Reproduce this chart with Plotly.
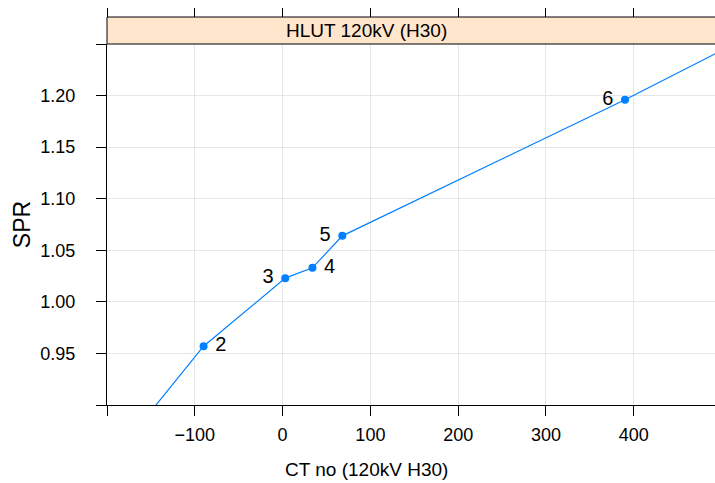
import plotly.graph_objects as go

# data
ct_values = [-1000, -90, 3, 34, 68, 390, 1000]
spr_values = [0.0, 0.957, 1.023, 1.033, 1.064, 1.196, 1.46]
point_labels = ["", "2", "3", "4", "5", "6", ""]  # points 1 and 7 lie outside the panel
label_side = ["middle right", "middle right", "middle left", "middle right",
              "middle left", "middle left", "middle right"]

x_tickvals = [-200, -100, 0, 100, 200, 300, 400]
x_ticktext = ["", "\u2212100", "0", "100", "200", "300", "400"]
y_tickvals = [0.90, 0.95, 1.00, 1.05, 1.10, 1.15, 1.20, 1.25]
y_ticktext = ["", "0.95", "1.00", "1.05", "1.10", "1.15", "1.20", ""]

strip_title = "HLUT 120kV (H30)"
x_title = "CT no (120kV H30)"
y_title = "SPR"

FONT = "Liberation Sans, Arial, Helvetica, sans-serif"
BLUE = "#0080ff"

# pad labels away from the markers
padded = [("\u00a0" + t) if "right" in s else (t + "\u00a0")
          for t, s in zip(point_labels, label_side)]

fig = go.Figure()
fig.add_trace(go.Scatter(
    x=ct_values, y=spr_values, mode="lines+markers+text",
    text=padded, textposition=label_side,
    textfont=dict(family=FONT, size=20, color="black"),
    line=dict(color=BLUE, width=1.2),
    marker=dict(color=BLUE, size=8),
    cliponaxis=True, showlegend=False, hoverinfo="x+y",
))
# invisible trace to host the top tick axis
fig.add_trace(go.Scatter(x=ct_values, y=spr_values, xaxis="x2", yaxis="y",
                         mode="markers", marker=dict(opacity=0),
                         showlegend=False, hoverinfo="skip"))

ydom_top = (405 - 44) / (405 - 17)

fig.update_layout(
    width=715, height=483,
    margin=dict(l=107, r=0, t=17, b=78),
    paper_bgcolor="white", plot_bgcolor="white",
    font=dict(family=FONT, color="black"),
    xaxis=dict(
        range=[-200, 492.5], tickvals=x_tickvals, ticktext=x_ticktext,
        ticks="outside", ticklen=10, tickcolor="black", tickwidth=1,
        showline=True, linecolor="black", linewidth=1, mirror=False,
        showgrid=True, gridcolor="#e6e6e6", gridwidth=1, zeroline=False,
        tickfont=dict(size=18, family=FONT), ticklabelstandoff=3,
    ),
    xaxis2=dict(
        overlaying="x", matches="x", side="top", anchor="free", position=1.0,
        tickvals=x_tickvals, showticklabels=False,
        ticks="outside", ticklen=9, tickcolor="black", tickwidth=1,
        showline=False, showgrid=False, zeroline=False,
    ),
    yaxis=dict(
        domain=[0, ydom_top], range=[0.90, 1.25],
        tickvals=y_tickvals, ticktext=y_ticktext,
        ticks="outside", ticklen=10, tickcolor="black", tickwidth=1,
        showline=True, linecolor="black", linewidth=1, mirror=False,
        showgrid=True, gridcolor="#e6e6e6", gridwidth=1, zeroline=False,
        tickfont=dict(size=18, family=FONT), ticklabelstandoff=17,
        title=dict(text=y_title, font=dict(size=23, family=FONT), standoff=3),
    ),
    shapes=[dict(type="rect", xref="paper", yref="paper",
                 x0=0, x1=1.002, y0=ydom_top, y1=1,
                 fillcolor="#ffe5cc", line=dict(color="black", width=1),
                 layer="above")],
    annotations=[
        dict(text=strip_title, xref="paper", yref="paper",
             x=0.426, y=(1 + ydom_top) / 2, showarrow=False,
             xanchor="center", yanchor="middle",
             font=dict(size=19, family=FONT, color="black")),
        dict(text=x_title, xref="paper", yref="paper",
             x=0.426, y=-0.165, showarrow=False,
             xanchor="center", yanchor="middle",
             font=dict(size=19, family=FONT, color="black")),
    ],
)

fig.write_html("out.html")
